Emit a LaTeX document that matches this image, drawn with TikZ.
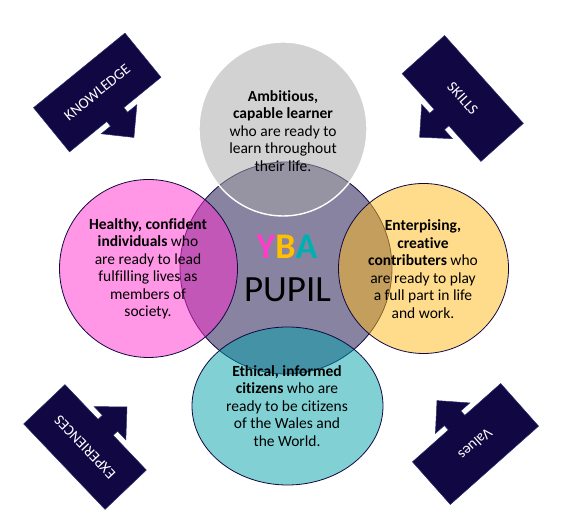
\documentclass[tikz,border=0pt]{standalone}
\usepackage{fontspec}
\setmainfont{Carlito}[Ligatures=NoCommon]
\definecolor{navy}{RGB}{17,8,67}
\definecolor{greybase}{RGB}{166,166,166}
\definecolor{pinkbase}{RGB}{255,45,205}
\definecolor{goldbase}{RGB}{255,185,25}
\definecolor{tealbase}{RGB}{1,161,169}
\definecolor{ybapink}{RGB}{255,60,200}
\definecolor{ybagold}{RGB}{255,192,0}
\definecolor{ybateal}{RGB}{0,176,176}
\tikzset{
  venn/.style={draw=navy, line width=0.8pt, fill opacity=0.5},
  bodytext/.style={align=center, text=black, inner sep=0pt, font=\fontsize{15.5}{17.5}\selectfont},
  callouttext/.style={text=white, inner sep=0pt, font=\fontsize{15}{18}\selectfont},
  arrowfill/.style={fill=navy, draw={rgb,255:red,40;green,50;blue,110}, line width=0.5pt}
}
\newcommand\yarrowbox[5]{%
  \begin{scope}[shift={(#1,#2)}, rotate=#3]
    \filldraw[arrowfill] (-59,28.5) -- (59,28.5) -- (59,-28.5) -- (11,-28.5) -- (11,-34.5) -- (23,-34.5)
      -- (0,-58) -- (-23,-34.5) -- (-11,-34.5) -- (-11,-28.5) -- (-59,-28.5) -- cycle;
    \node[callouttext, rotate=#3] (#4) at (0,0) {#5};
  \end{scope}}
\begin{document}
\begin{tikzpicture}[x=1pt,y=1pt]
\useasboundingbox (0,0) rectangle (567,529);
% arrows
\yarrowbox{97.25}{436.5}{39.2}{knowledge}{KNOWLEDGE}
\yarrowbox{462.75}{430.5}{-48.1}{skills}{SKILLS}
\yarrowbox{85}{82}{133.6}{experiences}{EXPERIENCES}
\yarrowbox{475.5}{85}{221.6}{values}{Values}
% circles
\draw[venn, fill=navy] (286,261) circle[radius=106pt];
\draw[fill=greybase, fill opacity=0.5, draw=white, line width=1.4pt] (283,400) ellipse[x radius=84pt, y radius=87pt];
\draw[venn, fill=pinkbase] (148.5,260.5) circle[radius=89pt];
\draw[venn, fill=goldbase] (423.5,260.5) circle[radius=85pt];
\draw[venn, fill=tealbase] (287.5,123) ellipse[x radius=95.5pt, y radius=79pt];
% texts
\node[bodytext] (ambitious) at (283,398) {\textbf{Ambitious,}\\\textbf{capable learner}\\who are ready to\\learn throughout\\their life.};
\node[bodytext] (healthy) at (148,260) {\textbf{Healthy, confident}\\\textbf{individuals} who\\are ready to lead\\fulfilling lives as\\members of\\society.};
\node[bodytext] (enterprising) at (423,260) {\textbf{Enterpising,}\\\textbf{creative}\\\textbf{contributers} who\\are ready to play\\a full part in life\\and work.};
\node[bodytext] (ethical) at (287,123) {\textbf{Ethical, informed}\\\textbf{citizens} who are\\ready to be citizens\\of the Wales and\\the World.};
\node[anchor=base, inner sep=0pt, font=\fontsize{36}{40}\selectfont\bfseries] (yba) at (287,270.5) {\textcolor{ybapink}{Y}\textcolor{ybagold}{B}\textcolor{ybateal}{A}};
\node[anchor=base, inner sep=0pt, font=\fontsize{37}{40}\selectfont] (pupil) at (287.5,227.3) {PUPIL};
\end{tikzpicture}
\end{document}
